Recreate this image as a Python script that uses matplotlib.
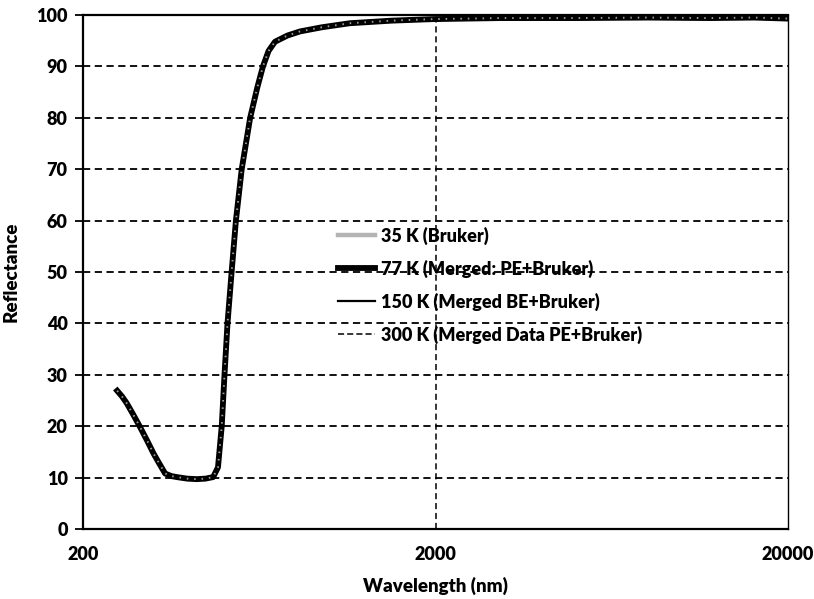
import numpy as np
import matplotlib
matplotlib.use('Agg')
import matplotlib.pyplot as plt

plt.rcParams['font.family'] = ['Lato', 'DejaVu Sans']
plt.rcParams['font.weight'] = 'heavy'

# wavelength (nm) and reflectance
wavelength = [250, 258, 266, 278, 290, 304, 317, 330, 342, 356, 369, 395, 420, 445, 468,
              483, 495, 504, 514, 528, 543, 564, 596, 625, 648, 672, 701, 760, 825, 950, 1143,
              1500, 1969, 3048, 5000, 8000, 12000, 16000, 20000]
refl_35K = [26.9, 25.8, 24.5, 22.2, 19.9, 17.2, 14.7, 12.6, 10.8, 10.3, 10.1, 9.8, 9.7, 9.8, 10.1,
            12.0, 20.0, 30.0, 40.0, 50.0, 60.0, 70.0, 80.0, 86.0, 90.0, 93.0, 94.8, 96.0, 96.8,
            97.6, 98.4, 98.9, 99.2, 99.4, 99.4, 99.5, 99.4, 99.5, 99.3]
refl_77K = list(refl_35K)
refl_150K = list(refl_35K)
refl_300K = list(refl_35K)

labels = ['35 K (Bruker)', '77 K (Merged: PE+Bruker)',
          '150 K (Merged BE+Bruker)', '300 K (Merged Data PE+Bruker)']

fig = plt.figure(figsize=(8.14, 5.99), dpi=100)
ax = fig.add_axes([83/814, 1-529/599, (788-83)/814, (529-15)/599])

l1, = ax.plot(wavelength, refl_35K, color='#b4b4b4', lw=3.2, zorder=2, label=labels[0])
l2, = ax.plot(wavelength, refl_77K, color='black', lw=4.2, zorder=3, label=labels[1])
l3, = ax.plot(wavelength, refl_150K, color='black', lw=1.6, zorder=4, label=labels[2])
l4, = ax.plot(wavelength, refl_300K, color='black', lw=1.1, ls=(0, (4, 2)), zorder=5,
              label=labels[3])
# speckle of the grey 35 K trace showing through the black ones
ax.plot(wavelength, refl_35K, color='#9a9a9a', lw=1.4, dashes=(0.8, 3.0), zorder=6)

ax.set_xscale('log')
ax.set_xlim(200, 20000)
ax.set_ylim(0, 100)
ax.set_xticks([200, 2000, 20000])
ax.set_xticklabels(['200', '2000', '20000'])
ax.xaxis.set_minor_locator(matplotlib.ticker.NullLocator())
ax.set_yticks(range(0, 101, 10))

ax.grid(axis='y', color='black', ls=(0, (4, 2.5)), lw=1.3)
ax.axvline(2000, color='black', ls=(0, (4, 2.5)), lw=1.1, zorder=1)

for s in ['left', 'bottom', 'top']:
    ax.spines[s].set_linewidth(1.6)
ax.spines['right'].set_linewidth(1.0)

ax.tick_params(axis='y', direction='out', length=6, width=1.3, labelsize=13, pad=5)
ax.tick_params(axis='x', length=0, labelsize=13, pad=12)
for t in ax.get_xticklabels() + ax.get_yticklabels():
    t.set_fontweight('heavy')

ax.set_xlabel('Wavelength (nm)', fontsize=13.5, fontweight='heavy', labelpad=10)
ax.set_ylabel('Reflectance', fontsize=13.5, fontweight='heavy', labelpad=12)

leg = ax.legend(handles=[l1, l2, l3, l4], loc='upper left', bbox_to_anchor=(0.338, 0.62),
                frameon=False, handlelength=2.1, handletextpad=0.3, labelspacing=0.82,
                prop={'size': 13, 'weight': 'heavy'})

plt.savefig('out.png', dpi=100)
